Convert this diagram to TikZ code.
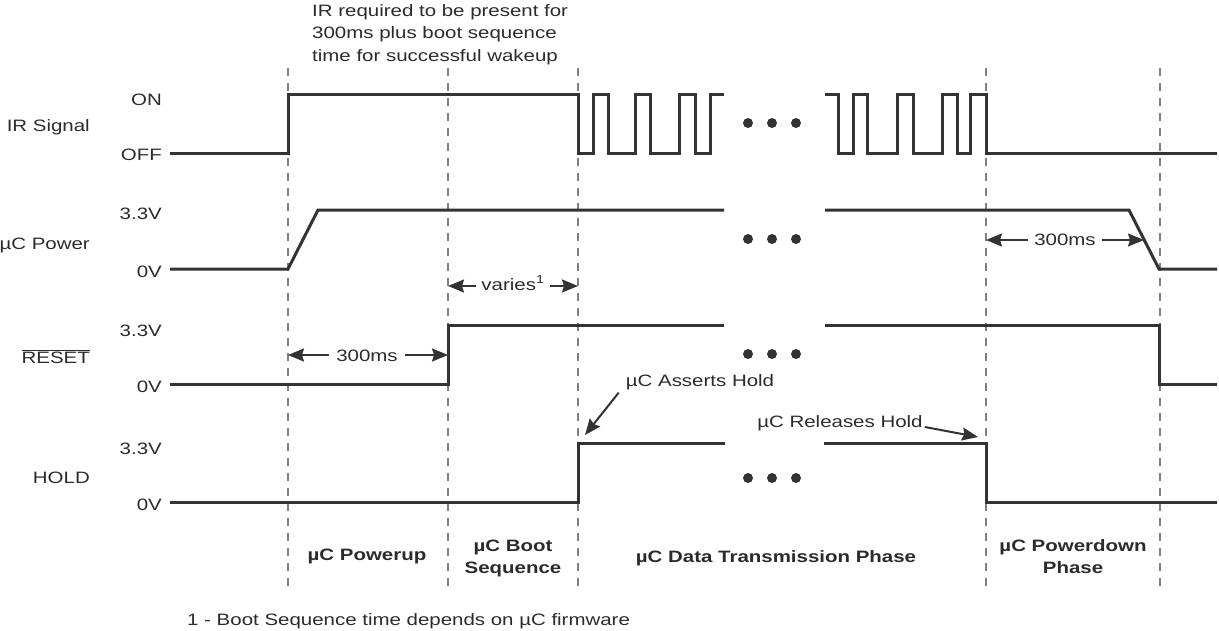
\documentclass[tikz,border=0pt]{standalone}
\usepackage{fontspec}
\setmainfont{Liberation Sans}[FakeStretch=1.24]
\usetikzlibrary{arrows.meta}
\definecolor{sigc}{HTML}{333333}
\definecolor{txtc}{HTML}{2B2B2B}
\definecolor{dashc}{HTML}{808080}
\begin{document}
\begin{tikzpicture}[x=1pt,y=-1pt,
  sig/.style={line width=3pt,draw=sigc,line join=miter},
  guide/.style={line width=1.2pt,draw=dashc,dash pattern=on 8pt off 7pt},
  lbl/.style={inner sep=0pt,text=txtc,font=\fontsize{16.5}{20}\selectfont},
  blbl/.style={lbl,font=\fontsize{16.5}{20}\selectfont\bfseries},
  dim/.style={line width=2pt,draw=sigc,-{Stealth[length=16pt,width=13pt,inset=2pt]}},
  call/.style={line width=2pt,draw=sigc,-{Stealth[length=16pt,width=13pt,inset=2pt]}},
  dot/.style={fill=sigc}
]
\useasboundingbox (0,0) rectangle (1219,630);

% title
\node[lbl,anchor=base west] (t1) at (312,16) {IR required to be present for};
\node[lbl,anchor=base west] (t2) at (312,38.5) {300ms plus boot sequence};
\node[lbl,anchor=base west] (t3) at (312,61) {time for successful wakeup};

% guides
\foreach \gx in {288,448,578,986,1160}
  \draw[guide] (\gx,68) -- (\gx,588);

% left labels
\node[lbl,anchor=base east] (irl) at (90,131) {IR Signal};
\node[lbl,anchor=base east] (pwl) at (90,249) {µC Power};
\node[lbl,anchor=base east] (rsl) at (90,363) {$\overline{\mbox{RESET}}$};
\node[lbl,anchor=base east] (hdl) at (90,483) {HOLD};

\node[lbl,anchor=base east] (on) at (162,105) {ON};
\node[lbl,anchor=base east] (off) at (162,160) {OFF};
\node[lbl,anchor=base east] (p33) at (162,219) {3.3V};
\node[lbl,anchor=base east] (p0) at (162,277) {0V};
\node[lbl,anchor=base east] (r33) at (162,336) {3.3V};
\node[lbl,anchor=base east] (r0) at (162,392) {0V};
\node[lbl,anchor=base east] (h33) at (162,454) {3.3V};
\node[lbl,anchor=base east] (h0) at (162,510) {0V};

% IR signal
\draw[sig] (170,153) -- (288,153) -- (288,94) -- (578,94) -- (578,153)
  -- (593,153) -- (593,94) -- (608,94) -- (608,153) -- (635,153) -- (635,94)
  -- (650,94) -- (650,153) -- (679,153) -- (679,94) -- (695,94) -- (695,153)
  -- (710,153) -- (710,94) -- (724,94);
\draw[sig] (825,94) -- (838,94) -- (838,153) -- (853,153) -- (853,94)
  -- (867,94) -- (867,153) -- (897,153) -- (897,94) -- (913,94) -- (913,153)
  -- (942,153) -- (942,94) -- (957,94) -- (957,153) -- (970,153) -- (970,94)
  -- (986,94) -- (986,153) -- (1217,153);

% uC power
\draw[sig] (170,269) -- (288,269) -- (318,210) -- (724,210);
\draw[sig] (825,210) -- (1129,210) -- (1159,269) -- (1217,269);

% RESET
\draw[sig] (170,384) -- (448,384) -- (448,325) -- (724,325);
\draw[sig] (825,325) -- (1159,325) -- (1159,384) -- (1217,384);

% HOLD
\draw[sig] (170,502) -- (578,502) -- (578,443) -- (725,443);
\draw[sig] (824,443) -- (986,443) -- (986,502) -- (1217,502);

% ellipsis dots
\foreach \dy in {123,239,354,478}
  \foreach \dx in {748,772,796}
    \fill[dot] (\dx,\dy) circle (5);

% dimension arrows
\node[lbl,inner xsep=6pt] (pd) at (1065,240) {300ms};
\coordinate (pda) at (986,240);
\coordinate (pdb) at (1144,240);
\draw[dim] (pd.west |- pda) -- (pda);
\draw[dim] (pd.east |- pdb) -- (pdb);

\node[lbl,anchor=base,inner xsep=5pt] (va) at (513,290) {varies\textsuperscript{1}};
\coordinate (vaa) at (448,286);
\coordinate (vab) at (578,286);
\draw[dim] (va.west |- vaa) -- (vaa);
\draw[dim] (va.east |- vab) -- (vab);

\node[lbl,inner xsep=7pt] (rd) at (367,356) {300ms};
\coordinate (rda) at (288,355);
\coordinate (rdb) at (448,355);
\draw[dim] (rd.west |- rda) -- (rda);
\draw[dim] (rd.east |- rdb) -- (rdb);

% callouts
\node[lbl,anchor=base] (ah) at (700,386) {µC Asserts Hold};
\coordinate (ahtip) at (585,435);
\draw[call] ([xshift=-7pt,yshift=-3pt]ah.south west) -- (ahtip);

\node[lbl,anchor=base] (rh) at (840,427) {µC Releases Hold};
\coordinate (rhtip) at (978,437);
\draw[call] ([xshift=2pt]rh.base east) -- (rhtip);

% phases
\node[blbl,anchor=base] (ph1) at (367,560) {µC Powerup};
\node[blbl,anchor=base] (ph2a) at (513,551) {µC Boot};
\node[blbl,anchor=base] (ph2b) at (513,573) {Sequence};
\node[blbl,anchor=base] (ph3) at (776,562) {µC Data Transmission Phase};
\node[blbl,anchor=base] (ph4a) at (1073,551) {µC Powerdown};
\node[blbl,anchor=base] (ph4b) at (1073,573) {Phase};

% footnote
\node[lbl,anchor=base west] (fn) at (187,625) {1 - Boot Sequence time depends on µC firmware};
\end{tikzpicture}
\end{document}
